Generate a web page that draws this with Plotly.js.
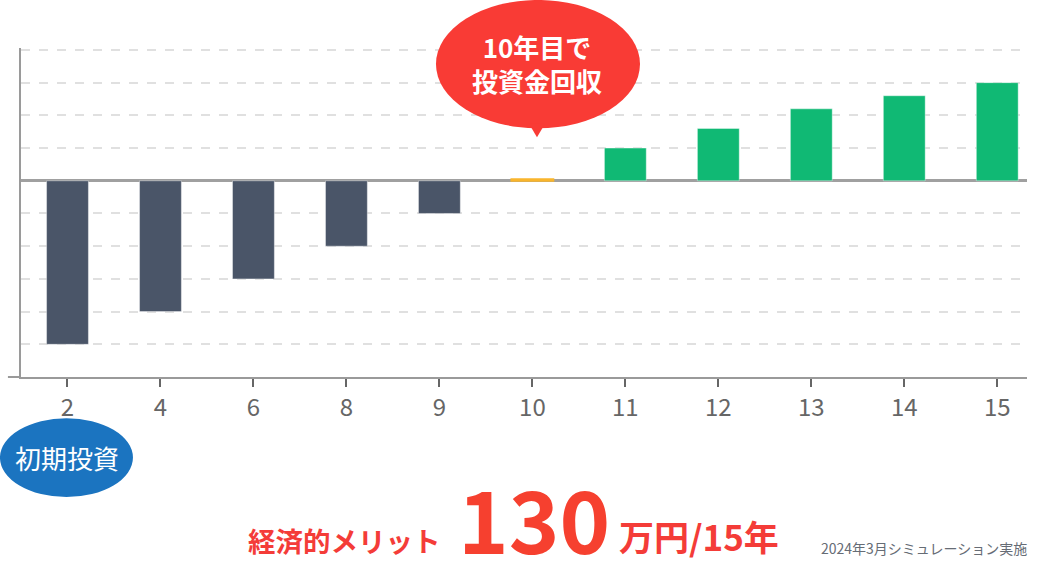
<!DOCTYPE html>
<html>
<head>
<meta charset="utf-8">
<script src="https://cdn.plot.ly/plotly-3.0.1.min.js"></script>
<style>
  html, body { margin: 0; padding: 0; background: #fff; }
  #chart { width: 1037px; height: 563px; }
</style>
</head>
<body>
<div id="chart"></div>
<script>
// years after installation (x categories)
const years = ['2', '4', '6', '8', '9', '10', '11', '12', '13', '14', '15'];
// cumulative balance (one grid step = 20)
const balance = [-100, -80, -60, -40, -20, 1, 20, 32, 44, 52, 60];
const barColors = ['#4a5568', '#4a5568', '#4a5568', '#4a5568', '#4a5568',
                   '#f9b52c', '#10b974', '#10b974', '#10b974', '#10b974', '#10b974'];

const FONT = '"Noto Sans CJK JP", "Noto Sans", sans-serif';

const data = [{
  type: 'bar',
  x: years,
  y: balance,
  width: 0.45,
  marker: {
    color: barColors,
    line: { color: barColors.map(c => c === '#f9b52c' ? c : 'rgba(255,255,255,0.4)'),
            width: barColors.map(c => c === '#f9b52c' ? 2 : 1) }
  },
  hoverinfo: 'skip'
}];

// plot area: top 48, bottom 377 (px)
const layout = {
  width: 1037,
  height: 563,
  margin: { l: 21, r: 10, t: 48, b: 186 },
  paper_bgcolor: '#fff',
  plot_bgcolor: '#fff',
  showlegend: false,
  font: { family: FONT },
  xaxis: {
    type: 'category',
    range: [-0.5, 10.32],
    showgrid: false,
    showline: true,
    linecolor: '#9a9a9a',
    linewidth: 2,
    ticks: 'outside',
    ticklen: 8,
    tickwidth: 2,
    tickcolor: '#666',
    tickfont: { size: 24, color: '#666', family: FONT },
    fixedrange: true
  },
  yaxis: {
    range: [-120, 81.2],
    tickmode: 'linear',
    tick0: 0,
    dtick: 20,
    showticklabels: false,
    showgrid: true,
    gridcolor: '#e0e0e0',
    gridwidth: 2,
    griddash: 'dash',
    zeroline: true,
    zerolinecolor: '#a0a0a0',
    zerolinewidth: 3,
    showline: true,
    linecolor: '#9a9a9a',
    linewidth: 2,
    ticks: '',
    fixedrange: true
  },
  shapes: [
    // speech bubble
    { type: 'circle', xref: 'paper', yref: 'paper',
      x0: 0.4125, x1: 0.6153, y0: 0.756, y1: 1.146,
      fillcolor: '#f93b35', line: { width: 0 }, layer: 'above' },
    { type: 'path', xref: 'paper', yref: 'paper',
      path: 'M 0.505 0.77 L 0.5209 0.77 L 0.5129 0.729 Z',
      fillcolor: '#f93b35', line: { width: 0 }, layer: 'above' },
    // initial investment badge
    { type: 'circle', xref: 'paper', yref: 'paper',
      x0: -0.0209, x1: 0.1113, y0: -0.365, y1: -0.125,
      fillcolor: '#1b74c0', line: { width: 0 } },
    // small stub left of the axis corner
    { type: 'line', xref: 'paper', yref: 'paper',
      x0: -0.013, x1: 0, y0: 0, y1: 0,
      line: { color: '#9a9a9a', width: 2 } }
  ],
  annotations: [
    { xref: 'paper', yref: 'paper', x: 0.5129, y: 0.952,
      xanchor: 'center', yanchor: 'middle', showarrow: false,
      text: '<b>10年目で<br>投資金回収</b>',
      font: { size: 26, color: '#fff', family: FONT } },
    { xref: 'paper', yref: 'paper', x: 0.0457, y: -0.246,
      xanchor: 'center', yanchor: 'middle', showarrow: false,
      text: '初期投資',
      font: { size: 26, color: '#fff', family: FONT } },
    { xref: 'paper', yref: 'paper', x: 0.322, y: -0.4955,
      xanchor: 'center', yanchor: 'middle', showarrow: false,
      text: '<b>経済的メリット</b>',
      font: { size: 27.5, color: '#f43c38', family: FONT } },
    { xref: 'paper', yref: 'paper', x: 0.51, y: -0.423,
      xanchor: 'center', yanchor: 'middle', showarrow: false,
      text: '<b>130</b>',
      font: { size: 86, color: '#f6402f', family: FONT } },
    { xref: 'paper', yref: 'paper', x: 0.674, y: -0.481,
      xanchor: 'center', yanchor: 'middle', showarrow: false,
      text: '<b>万円/15年</b>',
      font: { size: 35, color: '#f43c38', family: FONT } },
    { xref: 'paper', yref: 'paper', x: 0.898, y: -0.52,
      xanchor: 'center', yanchor: 'middle', showarrow: false,
      text: '2024年3月シミュレーション実施',
      font: { size: 14, color: '#666c75', family: FONT } }
  ]
};

Plotly.newPlot('chart', data, layout, { displayModeBar: false, staticPlot: true });
</script>
</body>
</html>
